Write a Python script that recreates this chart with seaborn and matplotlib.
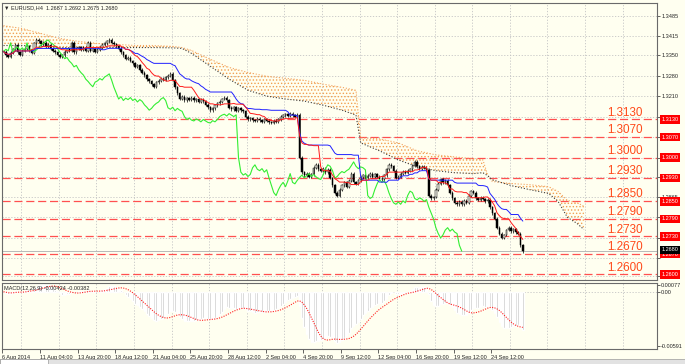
import numpy as np
import pandas as pd
import matplotlib
matplotlib.use("Agg")
import matplotlib.pyplot as plt
import matplotlib.transforms as mtransforms
from matplotlib.patches import Rectangle
import seaborn as sns

# EURUSD H4 closes, in 1e-4 units, one per bar (6 Aug -> 26 Sep 2014)
closes_pips = [
    13362, 13350, 13344, 13358, 13370, 13385, 13360, 13352, 13365, 13372,
    13380, 13366, 13358, 13390, 13402, 13398, 13388, 13392, 13380, 13385,
    13372,
    13365, 13360, 13352, 13345, 13350, 13362, 13370, 13365, 13392, 13360,
    13372, 13378, 13368, 13375, 13365, 13392, 13365, 13370, 13362, 13368,
    13375,
    13385, 13390, 13398, 13402, 13392, 13388, 13380,
    13372, 13360,
    13350, 13338, 13342, 13330,
    13322, 13310, 13315,
    13300, 13290, 13282,
    13268, 13260, 13250,
    13242,
    13258, 13262,
    13270, 13265, 13275, 13280, 13286,
    13265, 13240, 13220,
    13200, 13208, 13195, 13203, 13198, 13205, 13195, 13200, 13190, 13198, 13192,
    13180, 13172, 13162, 13168,
    13178, 13185, 13190, 13200, 13205, 13195,
    13170, 13165, 13172, 13160, 13168, 13162, 13158,
    13140,
    13130, 13135, 13128, 13125, 13132,
    13128, 13122, 13130, 13125, 13120, 13118, 13126, 13122, 13130, 13140, 13145,
    13148, 13142, 13150, 13145, 13140, 13146,
    13000, 12950,
    12940, 12945, 12935, 12942,
    12965, 12975,
    12960, 12955, 12962, 12950, 12958,
    12930, 12905, 12880, 12870,
    12890, 12905, 12915, 12900, 12920,
    12945,
    12915, 12910, 12922,
    12932, 12940, 12930, 12938, 12945, 12935, 12942, 12934, 12928,
    12925,
    12940, 12960, 12975, 12970,
    12955, 12930, 12935,
    12945, 12952, 12948, 12955,
    12960, 12972, 12985, 12970, 12962, 12968, 12965, 12958,
    12870,
    12860, 12865,
    12890, 12910, 12925,
    12915, 12920, 12905,
    12880, 12860, 12845, 12840,
    12848, 12840, 12852, 12845,
    12870, 12885, 12880,
    12860, 12855, 12862, 12858, 12850, 12856,
    12830, 12810, 12790,
    12760, 12740, 12725, 12735,
    12752, 12760,
    12748, 12755, 12745, 12740,
    12700, 12680,
]

# ichimoku cloud edges (bar index, 1e-4 units)
cloud_bars = [0, 8, 16, 24, 32, 40, 48, 56, 64, 72, 76, 80, 88, 96, 104, 112,
              120, 128, 136, 144, 150, 152, 160, 168, 176, 184, 192, 200, 204,
              206, 208, 216, 224, 232, 236, 240, 244, 247]
cloud_upper_pips = [13451, 13441, 13424, 13407, 13397, 13390, 13387, 13383,
                    13383, 13380, 13376, 13366, 13336, 13308, 13291, 13278,
                    13271, 13264, 13251, 13240, 13230, 13067, 13064, 13050,
                    13023, 13009, 13002, 12996, 12992, 12941, 12918, 12911,
                    12907, 12900, 12884, 12853, 12846, 12833]
cloud_lower_pips = [13383, 13383, 13380, 13376, 13376, 13376, 13376, 13376,
                    13376, 13375, 13373, 13356, 13312, 13268, 13230, 13210,
                    13200, 13193, 13179, 13162, 13145, 13050, 13023, 12992,
                    12968, 12955, 12948, 12945, 12948, 12938, 12924, 12904,
                    12890, 12877, 12850, 12795, 12775, 12754]

levels = [1.3130, 1.3070, 1.3000, 1.2930, 1.2850, 1.2790, 1.2730, 1.2670, 1.2600]
level_labels = ["1.3130", "1.3070", "1.3000", "1.2930", "1.2850", "1.2790",
                "1.2730", "1.2670", "1.2600"]
price_ticks = [1.3485, 1.3415, 1.3350, 1.3280, 1.3210, 1.3140, 1.3070, 1.3000,
               1.2935, 1.2865, 1.2795, 1.2725, 1.2655, 1.2595]
# labels hidden behind the level boxes on the chart are left blank
price_tick_labels = ["1.3485", "1.3415", "1.3350", "1.3280", "1.3210", "",
                     "", "", "", "1.2865", "", "", "", ""]
date_labels = ["6 Aug 2014", "11 Aug 04:00", "13 Aug 20:00", "18 Aug 12:00",
               "21 Aug 04:00", "25 Aug 20:00", "28 Aug 12:00", "2 Sep 04:00",
               "4 Sep 20:00", "9 Sep 12:00", "12 Sep 04:00", "16 Sep 20:00",
               "19 Sep 12:00", "24 Sep 12:00"]
last_price = 1.2680
header = "EURUSD,H4  1.2687 1.2692 1.2675 1.2680"
macd_header = "MACD(12,26,9) -0.00424 -0.00382"
macd_ticks = [0.00077, 0.0, -0.00591]
macd_tick_labels = ["0.00077", "0.00", "-0.00591"]

bg = "#fffff0"
sns.set_style("white", {"axes.facecolor": bg, "figure.facecolor": bg})
plt.rcParams["font.family"] = ["Liberation Sans", "DejaVu Sans"]
plt.rcParams["hatch.linewidth"] = 0.6

close = pd.Series(closes_pips, dtype=float) / 10000
n = len(close)
bars = np.arange(n)
open_ = close.shift(1).fillna(close.iloc[0])
wick = 0.0005
high = np.maximum(open_, close) + wick
low = np.minimum(open_, close) - wick

tenkan = (high.rolling(9, min_periods=1).max() + low.rolling(9, min_periods=1).min()) / 2
kijun = (high.rolling(26, min_periods=1).max() + low.rolling(26, min_periods=1).min()) / 2
chikou = close.iloc[26:].values

ema12 = close.ewm(span=12, adjust=False).mean()
ema26 = close.ewm(span=26, adjust=False).mean()
macd = ema12 - ema26
signal = macd.rolling(9, min_periods=1).mean()

cloud_x = np.array(cloud_bars)
cloud_up = np.array(cloud_upper_pips) / 10000
cloud_lo = np.array(cloud_lower_pips) / 10000

fig = plt.figure(figsize=(6.85, 3.64), dpi=100)
ax = fig.add_axes([2 / 685, 1 - 280 / 364, 655 / 685, 277 / 364])
ax2 = fig.add_axes([2 / 685, 1 - 349 / 364, 655 / 685, 66.5 / 364])
xlim = (-0.64, 278.1)
grid_kw = dict(color="#c4c4c4", lw=0.6, ls=(0, (1.5, 2)), zorder=0)

# main price panel
ax.set_xlim(*xlim)
ax.set_ylim(1.25811, 1.35284)
for p in price_ticks:
    ax.axhline(p, **grid_kw)
for k in range(18):
    ax.axvline(7.5 + 16 * k, **grid_kw)
    ax2.axvline(7.5 + 16 * k, **grid_kw)

ax.fill_between(cloud_x, cloud_lo, cloud_up, facecolor="none",
                edgecolor="#f2a050", hatch=".....", linewidth=0, zorder=1)
sns.lineplot(x=cloud_x, y=cloud_up, ax=ax, color="#f4a460", lw=0.8, ls=":", zorder=2)
sns.lineplot(x=cloud_x, y=cloud_lo, ax=ax, color="#3a3a3a", lw=0.8, ls=":", zorder=2)

for lv in levels:
    ax.axhline(lv, color="#ff5050", lw=0.9, ls=(0, (6.5, 3)), zorder=1.5)
ax.axhline(last_price, color="#b8b8b8", lw=0.7, zorder=1.6)

up = close >= open_
ax.vlines(bars, low, high, colors="black", lw=0.5, zorder=3)
body_lo = np.minimum(open_, close)
body_h = np.maximum(np.abs(close - open_), 0.00006)
ax.bar(bars, body_h, bottom=body_lo, width=0.62,
       color=np.where(up, "#f4f4e8", "black"), edgecolor="black",
       linewidth=0.35, zorder=3)

sns.lineplot(x=bars[:n - 26], y=chikou, ax=ax, color="#33ee33", lw=0.8, zorder=4)
sns.lineplot(x=bars, y=kijun.values, ax=ax, color="#2020ff", lw=0.7, zorder=4)
sns.lineplot(x=bars, y=tenkan.values, ax=ax, color="#ff1a1a", lw=0.7, zorder=4)

for lv, lab in zip(levels, level_labels):
    ax.text(257, lv + 0.0003, lab, color="#ff4a1a", fontsize=8.4,
            ha="left", va="bottom", zorder=5)

ax.yaxis.tick_right()
ax.set_yticks(price_ticks)
ax.set_yticklabels(price_tick_labels)
ax.tick_params(axis="y", labelsize=4, length=2, width=0.5, pad=1)
ax.set_xticks([])

trans = mtransforms.blended_transform_factory(ax.transAxes, ax.transData)
for lv, lab in zip(levels, level_labels):
    ax.text(1.007, lv, lab, transform=trans, fontsize=4, color="white",
            ha="left", va="center", clip_on=False, zorder=6,
            bbox=dict(boxstyle="square,pad=0.3", fc="#ff0000", ec="none"))
ax.text(1.007, last_price + 0.0004, "1.2680", transform=trans, fontsize=4,
        color="white", ha="left", va="center", clip_on=False, zorder=7,
        bbox=dict(boxstyle="square,pad=0.3", fc="black", ec="none"))

# MACD panel
ax2.set_xlim(*xlim)
ax2.set_ylim(-0.0062, 0.0010)
ax2.axhline(0, **grid_kw)
ax2.bar(bars, macd.values, width=0.7, color="#c4c4c4", zorder=2)
sns.lineplot(x=bars, y=signal.values, ax=ax2, color="#ff2020", lw=0.8,
             ls=(0, (1, 1.2)), zorder=3)
ax2.yaxis.tick_right()
ax2.set_yticks(macd_ticks)
ax2.set_yticklabels(macd_tick_labels)
ax2.tick_params(axis="y", labelsize=4, length=2, width=0.5, pad=1)
ax2.set_xticks([16 * k - 0.5 for k in range(len(date_labels))])
ax2.set_xticklabels(date_labels, ha="left")
ax2.tick_params(axis="x", labelsize=4, length=3, width=0.5, pad=1.5,
                direction="out", bottom=True)
ax2.text(0.003, 0.95, macd_header, transform=ax2.transAxes, fontsize=4,
         va="top", ha="left")
ax2.set_xlabel("")
ax2.set_ylabel("")
ax.set_xlabel("")
ax.set_ylabel("")

for a in (ax, ax2):
    for s in a.spines.values():
        s.set_color("#6a6a6a")
        s.set_linewidth(0.8)

fig.text(4 / 685, 1 - 8 / 364, "\u25bc " + header, fontsize=4, va="center", ha="left")

# terminal tab strip at the very bottom
fig.patches.append(Rectangle((0, 0), 1, 5 / 364, transform=fig.transFigure,
                             fc="#e2e2e2", ec="#9a9a9a", lw=0.5))
fig.patches.append(Rectangle((0, 0), 48 / 685, 5 / 364, transform=fig.transFigure,
                             fc="white", ec="#9a9a9a", lw=0.5))

fig.savefig("out.png", dpi=100, facecolor=bg)
